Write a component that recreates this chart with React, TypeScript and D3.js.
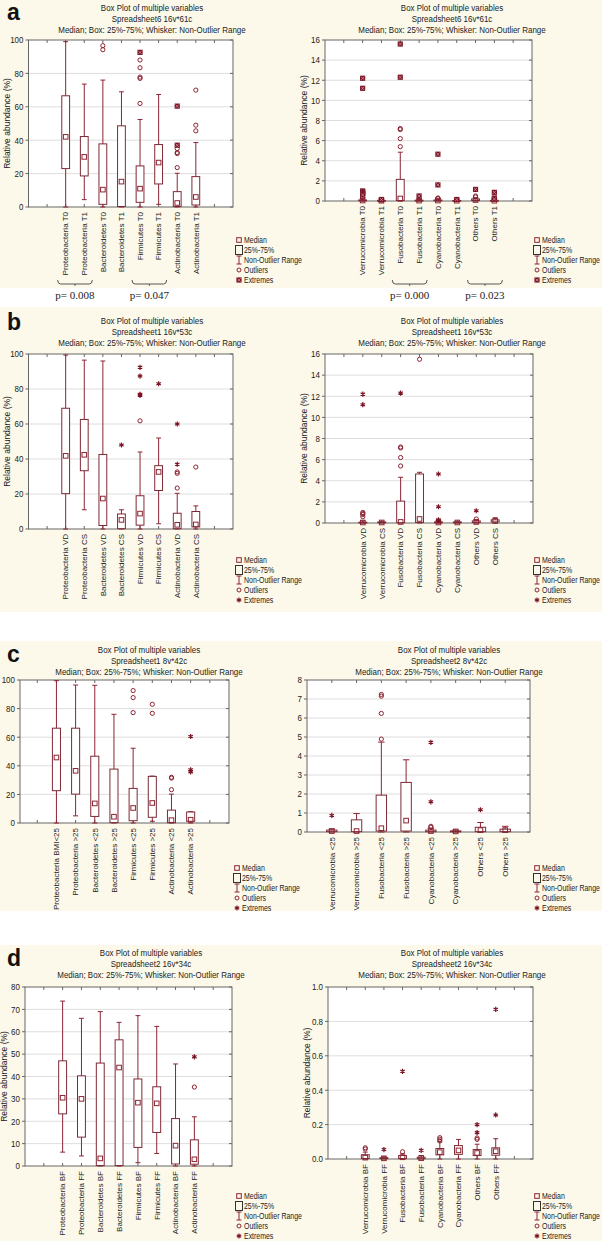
import * as d3 from 'd3';

type Stat = [number, number, number, number, number]; // whisker low, q1, median, q3, whisker high

// ---- a: T0 / T1 ----
const aLeftLabels = ['Proteobacteria T0', 'Proteobacteria T1', 'Bacteroidetes T0', 'Bacteroidetes T1', 'Firmicutes T0', 'Firmicutes T1', 'Actinobacteria T0', 'Actinobacteria T1'];
const aLeftStats: Stat[] = [
  [0, 23, 42, 66.6, 99], [4.4, 18.6, 30, 42.2, 73.6], [0, 1.6, 10.4, 37.8, 76], [0, 0.3, 15.2, 48.6, 69],
  [0, 2.8, 11, 24.6, 52.4], [1.6, 13.8, 26.6, 37.4, 67.4], [0, 0.3, 2.4, 9.2, 20.2], [0, 1.2, 6, 18.2, 38.6],
];
const aLeftOutliers = [[], [], [96.6, 94.2], [], [88, 83.4, 77.8, 77, 62], [], [35, 32.6, 32, 23.6], [70, 49, 45.6]];
const aLeftExtremes = [[], [], [], [], [92.6], [], [60.4, 37], []];

const aRightLabels = ['Verrucomicrobia T0', 'Verrucomicrobia T1', 'Fusobacteria T0', 'Fusobacteria T1', 'Cyanobacteria T0', 'Cyanobacteria T1', 'Others T0', 'Others T1'];
const aRightStats: Stat[] = [
  [0, 0.02, 0.05, 0.1, 0.25], [0, 0.01, 0.03, 0.06, 0.1], [0, 0.05, 0.25, 2.15, 4.85], [0, 0.01, 0.04, 0.08, 0.15],
  [0, 0.02, 0.05, 0.1, 0.2], [0, 0.01, 0.03, 0.05, 0.1], [0, 0.05, 0.1, 0.2, 0.3], [0, 0.01, 0.03, 0.06, 0.12],
];
const aRightOutliers = [[0.35, 0.3], [], [7.2, 7.1, 6.2, 5.4], [], [0.3, 0.25], [], [0.5, 0.4], []];
const aRightExtremes = [[12.2, 11.2, 1.0, 0.9, 0.8, 0.7, 0.6], [0.12, 0.15], [15.6, 12.3], [0.5], [4.65, 1.6], [0.15], [1.15], [0.86, 0.3, 0.2]];

const aLeftPGroups = [[0, 1], [4, 5]];
const aLeftPValues = ['p= 0.008', 'p= 0.047'];
const aRightPGroups = [[2, 3], [6, 7]];
const aRightPValues = ['p= 0.000', 'p= 0.023'];

// ---- b: VD / CS ----
const bLeftLabels = ['Proteobacteria VD', 'Proteobacteria CS', 'Bacteroidetes VD', 'Bacteroidetes CS', 'Firmicutes VD', 'Firmicutes CS', 'Actinobacteria VD', 'Actinobacteria CS'];
const bLeftStats: Stat[] = [
  [0, 20.2, 41.8, 69, 99.4], [11, 33.3, 42.4, 62.6, 96.5], [0, 2, 17.4, 42.6, 96], [0, 0.2, 5.2, 8.6, 11],
  [0, 2.2, 8.8, 19, 44], [3, 22, 32.6, 36.2, 52], [0, 0.2, 2.4, 9, 20.4], [0, 1.2, 2.6, 10, 13.2],
];
const bLeftOutliers = [[], [], [], [], [61.8], [], [32.6, 31.8, 23.4], [35.4]];
const bLeftExtremes = [[], [], [], [48], [92.4, 87.4, 77, 76.4], [83], [60, 37], []];

const bRightLabels = ['Verrucomicrobia VD', 'Verrucomicrobia CS', 'Fusobacteria VD', 'Fusobacteria CS', 'Cyanobacteria VD', 'Cyanobacteria CS', 'Others VD', 'Others CS'];
const bRightStats: Stat[] = [
  [0, 0.02, 0.05, 0.08, 0.2], [0, 0.02, 0.05, 0.1, 0.12], [0, 0.03, 0.1, 2.07, 4.33], [0, 0.05, 0.38, 4.64, 4.8],
  [0, 0.02, 0.05, 0.1, 0.2], [0, 0.02, 0.05, 0.1, 0.12], [0, 0.05, 0.1, 0.2, 0.3], [0, 0.1, 0.2, 0.3, 0.5],
];
const bRightOutliers = [[1.0, 0.9, 0.8, 0.6], [], [7.2, 7.1, 6.2, 5.4], [15.5], [], [], [0.38], []];
const bRightExtremes = [[12.2, 11.2], [], [12.3], [], [4.64, 1.54, 0.3, 0.2], [], [1.16], []];

// ---- c: BMI ----
const cLeftLabels = ['Proteobacteria BMI<25', 'Proteobacteria >25', 'Bacteroidetes <25', 'Bacteroidetes >25', 'Firmicutes <25', 'Firmicutes >25', 'Actinobacteria <25', 'Actinobacteria >25'];
const cLeftStats: Stat[] = [
  [0, 22.6, 45.8, 66.3, 99.5], [5, 20.2, 36.5, 66.3, 96.5], [0, 4.6, 13.7, 46.7, 96.3], [0, 0.3, 4.4, 37.7, 76],
  [0, 1.6, 10.5, 24.2, 52.3], [1.2, 4, 14, 32.6, 32.8], [0, 0.2, 2, 9, 20.2], [0, 1.2, 2.3, 7.7, 7.9],
];
const cLeftOutliers = [[], [], [], [], [92.6, 87.7, 77.2], [83, 76.7], [32, 31.4, 23.3], []];
const cLeftExtremes = [[], [], [], [], [], [], [], [60.5, 37.2, 35.8]];

const cRightLabels = ['Verrucomicrobia <25', 'Verrucomicrobia >25', 'Fusobacteria <25', 'Fusobacteria >25', 'Cyanobacteria <25', 'Cyanobacteria >25', 'Others <25', 'Others >25'];
const cRightStats: Stat[] = [
  [0, 0.02, 0.05, 0.1, 0.15], [0, 0.02, 0.05, 0.64, 0.97], [0, 0.05, 0.2, 1.94, 4.73], [0, 0.05, 0.6, 2.61, 3.8],
  [0, 0.02, 0.05, 0.1, 0.2], [0, 0.01, 0.03, 0.06, 0.1], [0, 0.02, 0.1, 0.25, 0.5], [0, 0.02, 0.1, 0.15, 0.3],
];
const cRightOutliers = [[], [], [7.24, 7.15, 6.24, 4.89], [], [0.3, 0.25], [], [], []];
const cRightExtremes = [[0.87], [], [], [], [4.72, 1.59], [], [1.17], []];

// ---- d: BF / FF ----
const dLeftLabels = ['Proteobacteria BF', 'Proteobacteria FF', 'Bacteroidetes BF', 'Bacteroidetes FF', 'Firmicutes BF', 'Firmicutes FF', 'Actinobacteria BF', 'Actinobacteria FF'];
const dLeftStats: Stat[] = [
  [6.2, 23.3, 30.5, 47, 73.7], [4.5, 12.9, 30, 40.3, 66], [0, 0.2, 3.4, 46, 69], [0, 0.2, 44, 56.4, 64.2],
  [1.5, 8.3, 28.3, 38.9, 67.2], [5.6, 15, 28, 35.4, 62.4], [0, 0.9, 9.1, 21.2, 45.6], [0, 0.8, 3, 11.7, 22],
];
const dLeftOutliers = [[], [], [], [], [], [], [], [35.3]];
const dLeftExtremes = [[], [], [], [], [], [], [], [48.8]];

const dRightLabels = ['Verrucomicrobia BF', 'Verrucomicrobia FF', 'Fusobacteria BF', 'Fusobacteria FF', 'Cyanobacteria BF', 'Cyanobacteria FF', 'Others BF', 'Others FF'];
const dRightStats: Stat[] = [
  [0, 0.003, 0.008, 0.025, 0.04], [0, 0.002, 0.004, 0.008, 0.012], [0, 0.003, 0.01, 0.02, 0.03], [0, 0.002, 0.005, 0.01, 0.02],
  [0, 0.024, 0.04, 0.061, 0.1], [0, 0.027, 0.05, 0.078, 0.114], [0, 0.02, 0.035, 0.055, 0.086], [0, 0.022, 0.045, 0.065, 0.118],
];
const dRightOutliers = [[0.065, 0.058], [], [0.042], [], [0.124, 0.115, 0.105], [], [0.114, 0.122], []];
const dRightExtremes = [[], [0.055], [0.51], [0.05], [], [], [0.2, 0.153], [0.87, 0.256]];

const RED = '#8c2433';
const DARK = '#7a1424';
const CREAM = '#fcf9ea';
const SANS = '"Liberation Sans", Arial, sans-serif';

interface PanelSpec {
  left: number; right: number; top: number; bottom: number;
  yMax: number; yStep: number; yFmt: string;
  xDomain: [number, number];
  titleX: number; titleTop: number; sheet: string;
  labels: string[]; stats: Stat[]; outliers: number[][]; extremes: number[][];
  yTitle: boolean; legendX: number; legendY: number; boxExtremes: boolean;
  pGroups?: number[][]; pValues?: string[]; pY?: number;
}

// condensed text (no narrow font installed, so squeeze Liberation Sans)
function NText({ x, y, children, anchor = 'start', size = 9, sx = 0.82 }: { x: number; y: number; children: string; anchor?: string; size?: number; sx?: number }) {
  return (
    <text transform={`translate(${x},${y}) scale(${sx},1)`} dy="0.35em" textAnchor={anchor} fontFamily={SANS} fontSize={size} fill="#222">
      {children}
    </text>
  );
}

function Extreme({ cx, cy, boxed }: { cx: number; cy: number; boxed: boolean }) {
  if (boxed) {
    return (
      <g>
        <rect x={cx - 2.6} y={cy - 2.6} width={5.2} height={5.2} fill={DARK} />
        <path d={`M${cx - 1.6},${cy - 1.6}L${cx + 1.6},${cy + 1.6}M${cx + 1.6},${cy - 1.6}L${cx - 1.6},${cy + 1.6}`} stroke="#d9a0a8" strokeWidth={0.7} />
      </g>
    );
  }
  const r = 2.6;
  const d = [0, 60, 120]
    .map((a) => {
      const t = (a * Math.PI) / 180 + Math.PI / 2;
      return `M${cx - r * Math.cos(t)},${cy - r * Math.sin(t)}L${cx + r * Math.cos(t)},${cy + r * Math.sin(t)}`;
    })
    .join('');
  return <path d={d} stroke={DARK} strokeWidth={1.2} />;
}

function BoxPanel({ p }: { p: PanelSpec }) {
  const x = d3.scaleLinear().domain(p.xDomain).range([p.left, p.right]);
  const y = d3.scaleLinear().domain([0, p.yMax]).range([p.bottom, p.top]);
  const slot = x(1) - x(0);
  const bw = slot * 0.42;
  const cw = slot * 0.26;
  const yTicks = d3.range(0, p.yMax + p.yStep / 2, p.yStep);
  const fmt = d3.format(p.yFmt);
  const xTicks = d3.range(Math.ceil(p.xDomain[0] + 0.01), Math.floor(p.xDomain[1] - 0.01) + 1);
  const titles = ['Box Plot of multiple variables', p.sheet, 'Median; Box: 25%-75%; Whisker: Non-Outlier Range'];
  const lx = p.legendX;
  const ly = p.legendY;
  const step = 10;
  const legendItems = ['Median', '25%-75%', 'Non-Outlier Range', 'Outliers', 'Extremes'];

  return (
    <g>
      {titles.map((t, i) => (
        <NText key={t} x={p.titleX} y={p.titleTop + i * 11} anchor="middle" size={9.5} sx={0.84}>
          {t}
        </NText>
      ))}
      <rect x={p.left} y={p.top} width={p.right - p.left} height={p.bottom - p.top} fill="#fff" />
      {yTicks.slice(1, -1).map((t) => (
        <line key={t} x1={p.left} x2={p.right} y1={y(t)} y2={y(t)} stroke="#dedede" strokeWidth={1} />
      ))}
      {yTicks.map((t) => (
        <g key={`t${t}`}>
          <line x1={p.left - 3} x2={p.left} y1={y(t)} y2={y(t)} stroke="#666" />
          <line x1={p.right - 3} x2={p.right} y1={y(t)} y2={y(t)} stroke="#666" />
          <NText x={p.left - 5} y={y(t)} anchor="end" size={9.5} sx={0.84}>
            {fmt(t)}
          </NText>
        </g>
      ))}
      {xTicks.map((t) => (
        <g key={`x${t}`}>
          <line x1={x(t)} x2={x(t)} y1={p.top} y2={p.top + 3} stroke="#666" />
          <line x1={x(t)} x2={x(t)} y1={p.bottom} y2={p.bottom - 3} stroke="#666" />
        </g>
      ))}
      <rect x={p.left} y={p.top} width={p.right - p.left} height={p.bottom - p.top} fill="none" stroke="#666" strokeWidth={1} />
      {p.yTitle && (
        <text transform={`translate(${p.left - 21},${(p.top + p.bottom) / 2}) rotate(-90)`} dy="0.35em" textAnchor="middle" fontFamily={SANS} fontSize={8.5} fill="#222">
          Relative abundance (%)
        </text>
      )}
      {p.stats.map((s, i) => {
        const cx = x(i);
        return (
          <g key={`b${i}`}>
            <line x1={cx} x2={cx} y1={y(s[0])} y2={y(s[4])} stroke={RED} strokeWidth={1} />
            <line x1={cx - cw / 2} x2={cx + cw / 2} y1={y(s[0])} y2={y(s[0])} stroke={RED} />
            <line x1={cx - cw / 2} x2={cx + cw / 2} y1={y(s[4])} y2={y(s[4])} stroke={RED} />
            <rect x={cx - bw / 2} y={y(s[3])} width={bw} height={Math.max(0.8, y(s[1]) - y(s[3]))} fill="#fff" stroke="#7d2a34" strokeWidth={1} />
            <rect x={cx - 2.3} y={y(s[2]) - 2.3} width={4.6} height={4.6} fill="none" stroke={RED} strokeWidth={1} />
            {p.outliers[i].map((v, k) => (
              <circle key={`o${k}`} cx={cx} cy={y(v)} r={2.1} fill="none" stroke={RED} strokeWidth={1} />
            ))}
            {p.extremes[i].map((v, k) => (
              <Extreme key={`e${k}`} cx={cx} cy={y(v)} boxed={p.boxExtremes} />
            ))}
            <text transform={`translate(${cx},${p.bottom + 5}) rotate(-90)`} dy="0.35em" textAnchor="end" fontFamily={SANS} fontSize={8} fill="#222">
              {p.labels[i]}
            </text>
          </g>
        );
      })}
      <g>
        <rect x={lx - 2.3} y={ly - 2.3} width={4.6} height={4.6} fill="none" stroke={RED} />
        <rect x={lx - 3.5} y={ly + step - 4.5} width={7} height={9} fill="none" stroke="#333" />
        <path d={`M${lx - 2.5},${ly + 2 * step - 4}H${lx + 2.5}M${lx},${ly + 2 * step - 4}V${ly + 2 * step + 4}M${lx - 2.5},${ly + 2 * step + 4}H${lx + 2.5}`} stroke={RED} fill="none" />
        <circle cx={lx} cy={ly + 3 * step} r={2} fill="none" stroke={RED} />
        <Extreme cx={lx} cy={ly + 4 * step} boxed={p.boxExtremes} />
        {legendItems.map((t, k) => (
          <NText key={t} x={lx + 5} y={ly + k * step} size={8.7} sx={0.8}>
            {t}
          </NText>
        ))}
      </g>
      {p.pGroups &&
        p.pGroups.map((g, k) => {
          const x1 = x(g[0]) - 8;
          const x2 = x(g[1]) + 8;
          const by = p.pY ?? 0;
          return (
            <g key={`p${k}`}>
              <path d={`M${x1},${by - 4}Q${x1},${by} ${x1 + 3},${by}H${x2 - 3}Q${x2},${by} ${x2},${by - 4}`} fill="none" stroke="#444" strokeWidth={0.9} />
              <line x1={(x1 + x2) / 2} x2={(x1 + x2) / 2} y1={by} y2={by + 2} stroke="#444" strokeWidth={0.8} />
              <text x={(x1 + x2) / 2} y={by + 15} textAnchor="middle" fontFamily='"Liberation Serif", "Times New Roman", serif' fontSize={11} fill="#222">
                {p.pValues?.[k]}
              </text>
            </g>
          );
        })}
    </g>
  );
}

const panels: PanelSpec[] = [
  { left: 28.5, right: 233, top: 40, bottom: 207, yMax: 100, yStep: 20, yFmt: 'd', xDomain: [-2, 9], titleX: 152, titleTop: 8, sheet: 'Spreadsheet6 16v*61c', labels: aLeftLabels, stats: aLeftStats, outliers: aLeftOutliers, extremes: aLeftExtremes, yTitle: true, legendX: 239, legendY: 240, boxExtremes: true, pGroups: aLeftPGroups, pValues: aLeftPValues, pY: 284 },
  { left: 325, right: 532, top: 40, bottom: 201, yMax: 16, yStep: 2, yFmt: 'd', xDomain: [-2, 9], titleX: 452, titleTop: 8, sheet: 'Spreadsheet6 16v*61c', labels: aRightLabels, stats: aRightStats, outliers: aRightOutliers, extremes: aRightExtremes, yTitle: true, legendX: 537, legendY: 240, boxExtremes: true, pGroups: aRightPGroups, pValues: aRightPValues, pY: 284 },
  { left: 28.5, right: 233, top: 354, bottom: 529, yMax: 100, yStep: 20, yFmt: 'd', xDomain: [-2, 9], titleX: 152, titleTop: 321, sheet: 'Spreadsheet1 16v*53c', labels: bLeftLabels, stats: bLeftStats, outliers: bLeftOutliers, extremes: bLeftExtremes, yTitle: true, legendX: 239, legendY: 560, boxExtremes: false },
  { left: 325, right: 533, top: 354, bottom: 523, yMax: 16, yStep: 2, yFmt: 'd', xDomain: [-2, 9], titleX: 452, titleTop: 321, sheet: 'Spreadsheet1 16v*53c', labels: bRightLabels, stats: bRightStats, outliers: bRightOutliers, extremes: bRightExtremes, yTitle: true, legendX: 537, legendY: 560, boxExtremes: false },
  { left: 20, right: 229, top: 680, bottom: 823, yMax: 100, yStep: 20, yFmt: 'd', xDomain: [-1.9, 9], titleX: 149, titleTop: 650, sheet: 'Spreadsheet1 8v*42c', labels: cLeftLabels, stats: cLeftStats, outliers: cLeftOutliers, extremes: cLeftExtremes, yTitle: false, legendX: 237, legendY: 868, boxExtremes: false },
  { left: 307, right: 530, top: 680, bottom: 832, yMax: 8, yStep: 1, yFmt: 'd', xDomain: [-1, 8], titleX: 449, titleTop: 650, sheet: 'Spreadsheet2 8v*42c', labels: cRightLabels, stats: cRightStats, outliers: cRightOutliers, extremes: cRightExtremes, yTitle: false, legendX: 537, legendY: 868, boxExtremes: false },
  { left: 25, right: 232, top: 987, bottom: 1166, yMax: 80, yStep: 10, yFmt: 'd', xDomain: [-2, 9], titleX: 151, titleTop: 953, sheet: 'Spreadsheet2 16v*34c', labels: dLeftLabels, stats: dLeftStats, outliers: dLeftOutliers, extremes: dLeftExtremes, yTitle: true, legendX: 239, legendY: 1196, boxExtremes: false },
  { left: 328, right: 533, top: 987, bottom: 1159, yMax: 1, yStep: 0.2, yFmt: '.1f', xDomain: [-2, 9], titleX: 452, titleTop: 953, sheet: 'Spreadsheet2 16v*34c', labels: dRightLabels, stats: dRightStats, outliers: dRightOutliers, extremes: dRightExtremes, yTitle: true, legendX: 537, legendY: 1196, boxExtremes: false },
];

const bands = [
  { letter: 'a', y0: 0, y1: 288, ly: 20 },
  { letter: 'b', y0: 307, y1: 612, ly: 330 },
  { letter: 'c', y0: 641, y1: 911, ly: 662 },
  { letter: 'd', y0: 945, y1: 1241, ly: 966 },
];

export default function App() {
  return (
    <div style={{ position: 'absolute', left: 0, top: 0, width: 602, height: 1241, background: '#fff' }}>
      <svg width={602} height={1241} style={{ display: 'block' }}>
        {bands.map((b) => (
          <g key={b.letter}>
            <rect x={0} y={b.y0} width={602} height={b.y1 - b.y0} fill={CREAM} />
            <text x={7} y={b.ly} fontFamily={SANS} fontWeight="bold" fontSize={23} fill="#111">
              {b.letter}
            </text>
          </g>
        ))}
        {panels.map((p, i) => (
          <BoxPanel key={i} p={p} />
        ))}
      </svg>
    </div>
  );
}
